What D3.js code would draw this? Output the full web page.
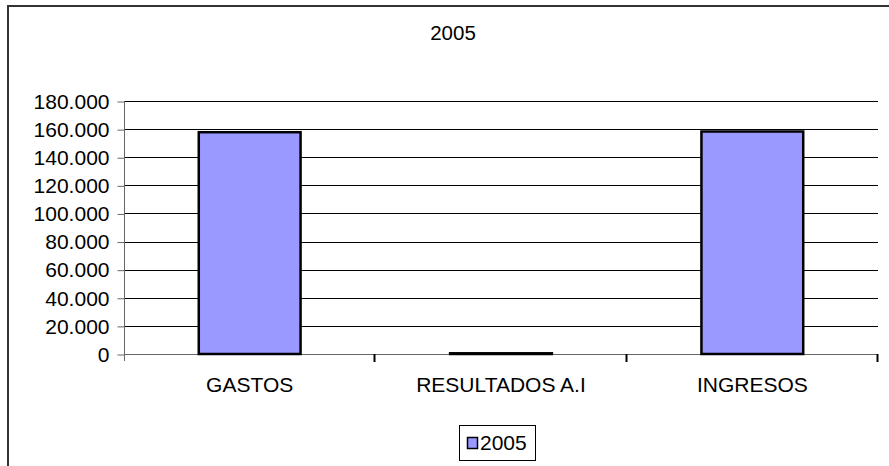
<!DOCTYPE html>
<html>
<head>
<meta charset="utf-8">
<script src="https://cdn.jsdelivr.net/npm/d3@7"></script>
<style>
  body { margin: 0; background: #fff; }
  text { font-family: "Liberation Sans", Arial, sans-serif; fill: #000; }
</style>
</head>
<body>
<div id="chart"></div>
<script>
var categories = ["GASTOS", "RESULTADOS A.I", "INGRESOS"];
var values2005 = [157800, 500, 158300];
var yTicks = [0, 20000, 40000, 60000, 80000, 100000, 120000, 140000, 160000, 180000];
var seriesName = "2005";
var chartTitle = "2005";

var svgWidth = 889;
var svgHeight = 466;

var plot = { left: 124, right: 878, top: 101, bottom: 354 };

var svg = d3.select("#chart")
    .append("svg")
    .attr("width", svgWidth)
    .attr("height", svgHeight);

// outer frame (runs off the right and bottom edge)
svg.append("rect")
    .attr("x", 8)
    .attr("y", 6)
    .attr("width", 900)
    .attr("height", 480)
    .attr("fill", "#fff")
    .attr("stroke", "#333")
    .attr("stroke-width", 2);

var esLocale = d3.formatLocale({ decimal: ",", thousands: ".", grouping: [3], currency: ["", ""] });
var fmt = esLocale.format(",");

var xScale = d3.scaleBand()
    .domain(categories)
    .range([plot.left, plot.right])
    .padding(0);

var yScale = d3.scaleLinear()
    .domain([0, 180000])
    .range([plot.bottom, plot.top]);

// gridlines
svg.append("g")
    .selectAll("line")
    .data(yTicks.filter(d => d > 0))
    .enter()
    .append("line")
    .attr("x1", plot.left)
    .attr("x2", plot.right)
    .attr("y1", d => Math.round(yScale(d)) + 0.5)
    .attr("y2", d => Math.round(yScale(d)) + 0.5)
    .attr("stroke", "#000")
    .attr("stroke-width", 1);

// y axis
var yAxis = svg.append("g")
    .attr("transform", `translate(${plot.left + 0.5},0.5)`)
    .call(d3.axisLeft(yScale).tickValues(yTicks).tickFormat(fmt).tickSize(7).tickPadding(8));
yAxis.select(".domain").remove();
yAxis.selectAll(".tick line").attr("stroke", "#666");
yAxis.selectAll("text").style("font-size", "21px")
    .style("font-family", "'Liberation Sans', Arial, sans-serif");
svg.append("line")
    .attr("x1", plot.left + 0.5).attr("x2", plot.left + 0.5)
    .attr("y1", plot.top).attr("y2", plot.bottom + 7)
    .attr("stroke", "#666");

// x axis line and category ticks at band edges
svg.append("line")
    .attr("x1", plot.left).attr("x2", plot.right)
    .attr("y1", plot.bottom + 0.5).attr("y2", plot.bottom + 0.5)
    .attr("stroke", "#666");
svg.append("g")
    .selectAll("line")
    .data(categories.slice(1).concat(["end"]))
    .enter()
    .append("line")
    .attr("x1", (d, i) => Math.round(plot.left + xScale.step() * (i + 1)) - 0.5)
    .attr("x2", (d, i) => Math.round(plot.left + xScale.step() * (i + 1)) - 0.5)
    .attr("y1", plot.bottom)
    .attr("y2", plot.bottom + 8)
    .attr("stroke", "#000")
    .attr("stroke-width", 2);

// bars
var barW = xScale.bandwidth() * 0.405;
svg.append("g")
    .selectAll("rect")
    .data(values2005)
    .enter()
    .append("rect")
    .attr("x", (d, i) => xScale(categories[i]) + xScale.bandwidth() / 2 - barW / 2)
    .attr("y", d => yScale(d))
    .attr("width", barW)
    .attr("height", d => Math.max(0.5, yScale(0) - yScale(d)))
    .attr("fill", "#9999ff")
    .attr("stroke", "#000")
    .attr("stroke-width", 2.5);

// category labels
svg.append("g")
    .selectAll("text")
    .data(categories)
    .enter()
    .append("text")
    .attr("x", d => xScale(d) + xScale.bandwidth() / 2)
    .attr("y", 392)
    .attr("text-anchor", "middle")
    .style("font-size", "21px")
    .text(d => d);

// title
svg.append("text")
    .attr("x", 453)
    .attr("y", 40)
    .attr("text-anchor", "middle")
    .style("font-size", "20.5px")
    .text(chartTitle);

// legend
var legend = svg.append("g");
legend.append("rect")
    .attr("x", 459.5).attr("y", 425.5)
    .attr("width", 76).attr("height", 35)
    .attr("fill", "#fff")
    .attr("stroke", "#000")
    .attr("stroke-width", 1);
legend.append("rect")
    .attr("x", 467.5).attr("y", 437.5)
    .attr("width", 10).attr("height", 11)
    .attr("fill", "#9999ff")
    .attr("stroke", "#000")
    .attr("stroke-width", 1.5);
legend.append("text")
    .attr("x", 480)
    .attr("y", 450)
    .style("font-size", "21px")
    .text(seriesName);
</script>
</body>
</html>
